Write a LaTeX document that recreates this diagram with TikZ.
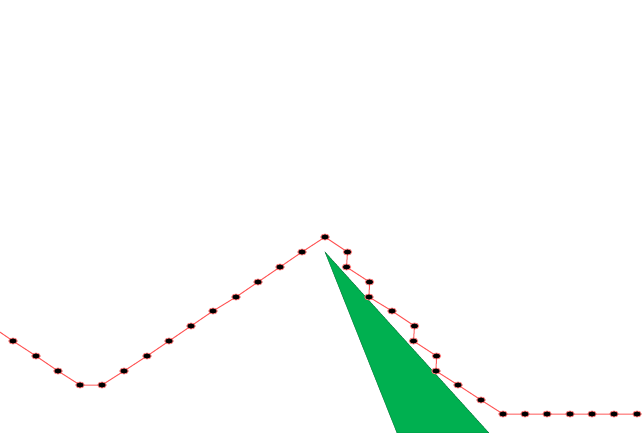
\documentclass[tikz,border=0pt]{standalone}
\definecolor{tri}{RGB}{0,176,80}
\definecolor{lnred}{RGB}{255,90,90}
\tikzset{
  dot/.style={ellipse,draw=lnred!80,line width=0.8pt,fill=black,minimum width=8.5pt,minimum height=6pt,inner sep=0pt},
  trail/.style={draw=lnred,line width=1pt},
  wedge/.style={fill=tri,draw=tri!60!black,line width=0.3pt}
}
\usetikzlibrary{shapes.geometric}
\begin{document}
\begin{tikzpicture}[x=1pt,y=-1pt]
\useasboundingbox (0,0) rectangle (642,432);
\fill[white] (0,0) rectangle (642,432);
% green wedge
\filldraw[wedge] (325,252) -- (489,433) -- (397,433) -- cycle;
% start coordinate off-canvas
\coordinate (s) at (-9,326);
\foreach \i/\x/\y in {
 1/13/341, 2/36/356, 3/58/371, 4/80/385, 5/102/385, 6/124/371, 7/147/356,
 8/169/341, 9/191/326, 10/213/311, 11/236/297, 12/258/282, 13/280/267,
 14/302/252, 15/325/237, 16/347.5/252, 17/346.5/267, 18/369.5/282, 19/369/297,
 20/392/311, 21/414.5/326, 22/413.5/341, 23/436.5/356, 24/436/371,
 25/458/385, 26/481/400, 27/503/414, 28/525/414, 29/547/414, 30/570/414,
 31/592/414, 32/614/414, 33/637/414}
  \coordinate (p\i) at (\x,\y);
\draw[trail] (s) -- (p1)
  \foreach \i in {2,...,33} { -- (p\i) };
\foreach \i in {1,...,33}
  \node[dot] (d\i) at (p\i) {};
\end{tikzpicture}
\end{document}
